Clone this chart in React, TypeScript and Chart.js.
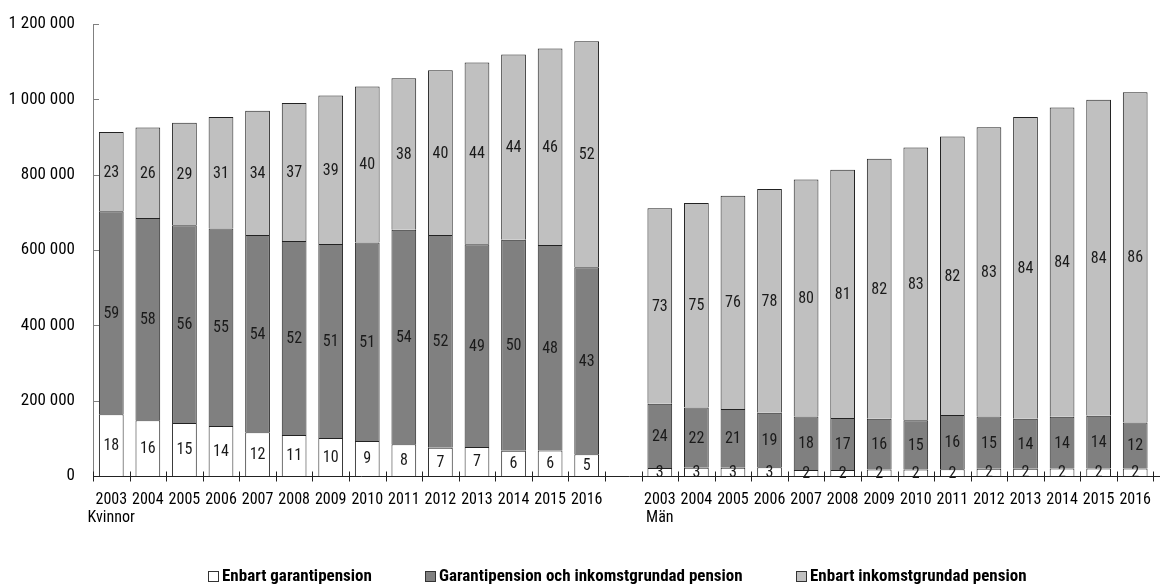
import React, { useEffect, useRef } from 'react';
import { Chart, registerables } from 'chart.js';

Chart.register(...registerables);

const FONT = "'Liberation Sans Narrow', 'Roboto Condensed', 'DejaVu Sans Condensed', 'Liberation Sans', sans-serif";

const years = ['2003', '2004', '2005', '2006', '2007', '2008', '2009', '2010', '2011', '2012', '2013', '2014', '2015', '2016'];
const groupNames = ['Kvinnor', 'Män'];
const seriesNames = ['Enbart garantipension', 'Garantipension och inkomstgrundad pension', 'Enbart inkomstgrundad pension'];
const seriesColors = ['#ffffff', '#808080', '#c0c0c0'];

// Number of people
const kvinnorGaranti = [164000, 148000, 141000, 133000, 116000, 109000, 101000, 93000, 84000, 75000, 77000, 67000, 68000, 58000];
const kvinnorBada = [539000, 537000, 525000, 524000, 524000, 515000, 515000, 527000, 570000, 565000, 538000, 560000, 545000, 496000];
const kvinnorInkomst = [210000, 240000, 272000, 296000, 330000, 366000, 394000, 414000, 402000, 437000, 483000, 492000, 522000, 600000];

const manGaranti = [21000, 22000, 22000, 23000, 16000, 16000, 17000, 17000, 18000, 19000, 19000, 20000, 20000, 20000];
const manBada = [171000, 160000, 156000, 145000, 142000, 138000, 135000, 131000, 144000, 139000, 133000, 137000, 140000, 122000];
const manInkomst = [519000, 543000, 566000, 594000, 629000, 659000, 690000, 724000, 739000, 768000, 801000, 821000, 839000, 877000];

// Percent labels shown inside the segments
const kvinnorGarantiPct = [18, 16, 15, 14, 12, 11, 10, 9, 8, 7, 7, 6, 6, 5];
const kvinnorBadaPct = [59, 58, 56, 55, 54, 52, 51, 51, 54, 52, 49, 50, 48, 43];
const kvinnorInkomstPct = [23, 26, 29, 31, 34, 37, 39, 40, 38, 40, 44, 44, 46, 52];

const manGarantiPct = [3, 3, 3, 3, 2, 2, 2, 2, 2, 2, 2, 2, 2, 2];
const manBadaPct = [24, 22, 21, 19, 18, 17, 16, 15, 16, 15, 14, 14, 14, 12];
const manInkomstPct = [73, 75, 76, 78, 80, 81, 82, 83, 82, 83, 84, 84, 84, 86];

const yMax = 1200000;
const yStep = 200000;

const labels: (string | string[])[] = [
  ...years.map((y, i) => (i === 0 ? [y, groupNames[0]] : y)),
  '',
  ...years.map((y, i) => (i === 0 ? [y, groupNames[1]] : y)),
];

const join = (a: number[], b: number[]) => [...a, null, ...b];

const fmt = (v: number) => String(v).replace(/\B(?=(\d{3})+(?!\d))/g, ' ');

const pctLabelPlugin = {
  id: 'pctLabels',
  afterDatasetsDraw(chart: any) {
    const ctx = chart.ctx;
    ctx.save();
    ctx.font = `16px ${FONT}`;
    ctx.fillStyle = '#1a1a1a';
    ctx.textAlign = 'center';
    ctx.textBaseline = 'middle';
    chart.data.datasets.forEach((ds: any, d: number) => {
      const meta = chart.getDatasetMeta(d);
      meta.data.forEach((el: any, i: number) => {
        const t = ds.pctLabels[i];
        if (t == null) return;
        const p = el.getProps(['x', 'y', 'base'], true);
        ctx.fillText(String(t), p.x, (p.y + p.base) / 2 + 1);
      });
    });
    ctx.restore();
  },
};

const axesPlugin = {
  id: 'customAxes',
  afterDatasetsDraw(chart: any) {
    const ctx = chart.ctx;
    const { left, top, bottom } = chart.chartArea;
    const ys = chart.scales.y;
    const xs = chart.scales.x;
    ctx.save();
    ctx.lineWidth = 1;
    // y axis
    ctx.strokeStyle = '#808080';
    ctx.beginPath();
    ctx.moveTo(left + 0.5, top);
    ctx.lineTo(left + 0.5, bottom);
    ys.ticks.forEach((t: any) => {
      const py = Math.round(ys.getPixelForValue(t.value)) + 0.5;
      ctx.moveTo(left, py);
      ctx.lineTo(left + 6, py);
    });
    ctx.stroke();
    // x axis
    ctx.strokeStyle = '#222';
    ctx.beginPath();
    const by = Math.round(bottom) + 0.5;
    ctx.moveTo(left, by);
    ctx.lineTo(chart.width, by);
    const n = xs.ticks.length;
    const step = (xs.right - xs.left) / n;
    for (let i = 0; i <= n; i++) {
      const px = Math.round(xs.left + i * step) + 0.5;
      ctx.moveTo(px, by - 5);
      ctx.lineTo(px, by + 5);
    }
    ctx.stroke();
    ctx.restore();
  },
};

const legendAnchors = [208, 425, 796];

const legendPlugin = {
  id: 'customLegend',
  afterDraw(chart: any) {
    const ctx = chart.ctx;
    ctx.save();
    ctx.font = `bold 17px ${FONT}`;
    ctx.textBaseline = 'middle';
    ctx.textAlign = 'left';
    const cy = 577;
    chart.data.datasets.forEach((ds: any, d: number) => {
      const x = legendAnchors[d];
      ctx.fillStyle = ds.backgroundColor;
      ctx.fillRect(x + 0.5, cy - 5.5, 10, 10);
      ctx.strokeStyle = '#333';
      ctx.lineWidth = 1;
      ctx.strokeRect(x + 0.5, cy - 5.5, 10, 10);
      ctx.fillStyle = '#000';
      ctx.fillText(ds.label, x + 14, cy);
    });
    ctx.restore();
  },
};

export default function App() {
  const ref = useRef<HTMLCanvasElement | null>(null);

  useEffect(() => {
    if (!ref.current) return;
    const mk = (i: number, a: number[], b: number[], pa: number[], pb: number[]) => ({
      label: seriesNames[i],
      data: join(a, b),
      pctLabels: join(pa, pb),
      backgroundColor: seriesColors[i],
      borderColor: '#222',
      borderWidth: { top: 1, left: 1, right: 1, bottom: 0 },
      borderSkipped: false,
      barPercentage: 0.676,
      categoryPercentage: 1.0,
    });
    const chart = new Chart(ref.current, {
      type: 'bar',
      data: {
        labels,
        datasets: [
          mk(0, kvinnorGaranti, manGaranti, kvinnorGarantiPct, manGarantiPct),
          mk(1, kvinnorBada, manBada, kvinnorBadaPct, manBadaPct),
          mk(2, kvinnorInkomst, manInkomst, kvinnorInkomstPct, manInkomstPct),
        ] as any,
      },
      options: {
        animation: false,
        responsive: true,
        maintainAspectRatio: false,
        layout: { padding: { top: 24, left: 0, right: 0, bottom: 0 } },
        plugins: {
          legend: { display: false },
          tooltip: { enabled: false },
        },
        scales: {
          x: {
            stacked: true,
            offset: true,
            grid: { display: false, drawTicks: false },
            border: { display: false },
            ticks: {
              autoSkip: false,
              maxRotation: 0,
              minRotation: 0,
              padding: 15,
              color: '#000',
              font: { family: FONT, size: 16, lineHeight: 1.125 },
            },
            afterFit: (s: any) => {
              s.height = 108;
            },
          },
          y: {
            stacked: true,
            min: 0,
            max: yMax,
            grid: { display: false, drawTicks: false },
            border: { display: false },
            ticks: {
              stepSize: yStep,
              padding: 18,
              color: '#000',
              font: { family: FONT, size: 17 },
              callback: (v: any) => fmt(Number(v)),
            },
            afterFit: (s: any) => {
              s.width = 93;
              s.paddingTop = 0;
              s.paddingBottom = 0;
            },
          },
        },
      },
      plugins: [axesPlugin, pctLabelPlugin, legendPlugin],
    });
    return () => chart.destroy();
  }, []);

  return (
    <div style={{ position: 'fixed', left: 0, top: 0, width: 1160, height: 584, overflow: 'hidden', background: '#fff' }}>
      <div style={{ position: 'relative', width: 1166, height: 584 }}>
        <canvas ref={ref} />
      </div>
    </div>
  );
}
